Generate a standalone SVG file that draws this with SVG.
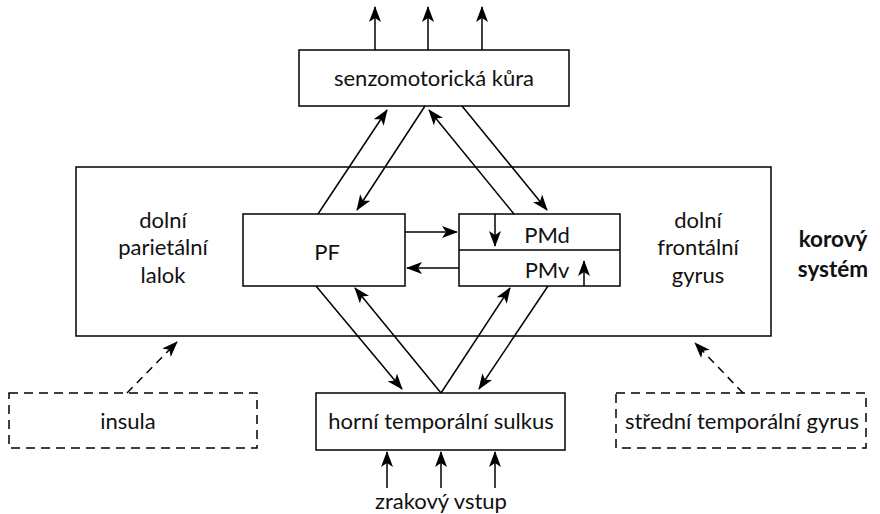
<svg xmlns="http://www.w3.org/2000/svg" width="880" height="514" viewBox="0 0 880 514">
<style>
.box{fill:#fff;stroke:#000;stroke-width:1.5}
.dbox{fill:none;stroke:#000;stroke-width:1.5;stroke-dasharray:9,6}
.ln{fill:none;stroke:#000;stroke-width:1.5;marker-end:url(#ah)}
.dl{fill:none;stroke:#000;stroke-width:1.5;stroke-dasharray:8,6;marker-end:url(#ah)}
.t{font-family:Lato,"Open Sans","Liberation Sans",sans-serif;font-size:22px;fill:#111;text-anchor:middle}
.b{font-weight:bold;font-size:22.5px}
</style>
<defs>
<marker id="ah" viewBox="0 0 16 12" refX="15" refY="6" markerWidth="16" markerHeight="12" markerUnits="userSpaceOnUse" orient="auto">
<path d="M0,0 L16,6 L0,12 L4,6 z" fill="#000"/>
</marker>
</defs>
<rect width="880" height="514" fill="#fff"/>
<g id="korovy-system">
<rect class="box" x="76" y="167" width="695" height="169"/>
<text class="t" x="163" y="228">dolní</text>
<text class="t" x="163" y="255">parietální</text>
<text class="t" x="163" y="283">lalok</text>
<text class="t" x="698" y="228">dolní</text>
<text class="t" x="698" y="255">frontální</text>
<text class="t" x="698" y="283">gyrus</text>
<text class="t b" x="833" y="247">korový</text>
<text class="t b" x="833" y="277">systém</text>
</g>
<g id="senzo">
<rect class="box" x="299" y="50" width="270" height="56"/>
<text class="t" x="434" y="86">senzomotorická kůra</text>
</g>
<g id="pf">
<rect class="box" x="243" y="214" width="162" height="72"/>
<text class="t" x="327" y="260">PF</text>
</g>
<g id="pm">
<rect class="box" x="459" y="214" width="161" height="72"/>
<line x1="459" y1="250" x2="620" y2="250" stroke="#000" stroke-width="1.5"/>
<text class="t" x="547" y="243">PMd</text>
<text class="t" x="547" y="278">PMv</text>
</g>
<g id="sts">
<rect class="box" x="316" y="393" width="249" height="57"/>
<text class="t" x="441" y="429">horní temporální sulkus</text>
</g>
<g id="insula">
<rect class="dbox" x="9" y="393" width="248" height="55"/>
<text class="t" x="128" y="429">insula</text>
</g>
<g id="mtg">
<rect class="dbox" x="616" y="393" width="250" height="55"/>
<text class="t" x="742" y="429">střední temporální gyrus</text>
</g>
<g id="zrak">
<text class="t" x="441" y="509">zrakový vstup</text>
</g>
<g id="connectors">
<line class="ln" x1="375" y1="50" x2="375" y2="7"/>
<line class="ln" x1="428" y1="50" x2="428" y2="7"/>
<line class="ln" x1="482" y1="50" x2="482" y2="7"/>
<line class="ln" x1="318" y1="214" x2="387" y2="110"/>
<line class="ln" x1="425" y1="106" x2="357" y2="210"/>
<line class="ln" x1="514" y1="214" x2="429" y2="110"/>
<line class="ln" x1="462" y1="106" x2="547" y2="210"/>
<line class="ln" x1="405" y1="232" x2="457" y2="232"/>
<line class="ln" x1="459" y1="268" x2="407" y2="268"/>
<line class="ln" x1="495" y1="214" x2="495" y2="246"/>
<line class="ln" x1="584" y1="286" x2="584" y2="261"/>
<line class="ln" x1="316" y1="286" x2="402" y2="389"/>
<line class="ln" x1="441" y1="393" x2="355" y2="288"/>
<line class="ln" x1="441" y1="393" x2="510" y2="288"/>
<line class="ln" x1="548" y1="286" x2="479" y2="389"/>
<line class="ln" x1="387" y1="488" x2="387" y2="452"/>
<line class="ln" x1="441" y1="488" x2="441" y2="452"/>
<line class="ln" x1="495" y1="488" x2="495" y2="452"/>
<line class="dl" x1="127" y1="393" x2="177" y2="342"/>
<line class="dl" x1="743" y1="393" x2="695" y2="343"/>
</g>
</svg>
